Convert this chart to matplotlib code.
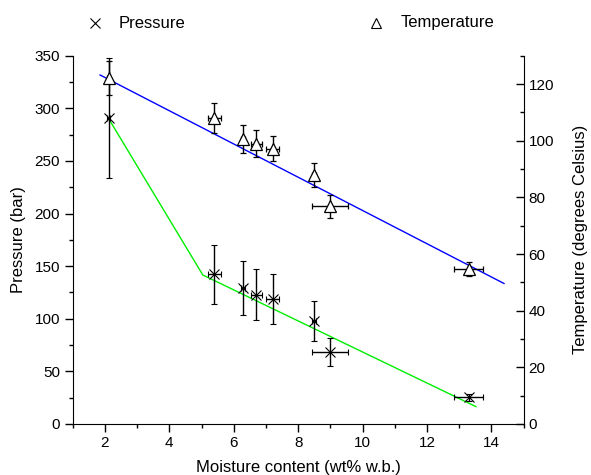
import matplotlib
matplotlib.use("Agg")
import matplotlib.pyplot as plt
from matplotlib.ticker import MultipleLocator
from matplotlib.lines import Line2D

plt.rcParams['font.family'] = ['Liberation Sans', 'DejaVu Sans']

moisture = [2.12, 5.40, 6.30, 6.70, 7.21, 8.49, 9.00, 13.29]
moisture_err = [0.05, 0.19, 0.06, 0.17, 0.21, 0.06, 0.56, 0.46]
pressure = [290.8, 142.5, 129.5, 122.9, 118.5, 98.2, 68.4, 25.3]
pressure_err = [57, 28, 25.6, 24, 23.6, 19, 13.5, 3]
temperature = [122.0, 108.0, 100.6, 98.9, 97.2, 87.9, 76.8, 54.8]
temperature_err = [6, 5.3, 5, 4.8, 4.5, 4.2, 4, 2.4]

pressure_fit_x = [2.12, 5.04, 13.52]
pressure_fit_y = [290.0, 141.6, 16.5]
temperature_fit_x = [1.85, 14.39]
temperature_fit_y = [123.2, 49.6]

legend_labels = ['Pressure', 'Temperature']

W, H = 591, 475
fig = plt.figure(figsize=(W / 100, H / 100), dpi=100)
ax = fig.add_axes([0.123, 0.1074, 0.763, 0.7753])
ax2 = ax.twinx()

ax.plot(pressure_fit_x, pressure_fit_y, color='#00ee00', lw=1.0, zorder=2)
ax2.plot(temperature_fit_x, temperature_fit_y, color='#0000ff', lw=1.0, zorder=2)

ax.errorbar(moisture, pressure, yerr=pressure_err, xerr=moisture_err, fmt='x',
            color='black', ms=7, mew=0.8, ecolor='black', elinewidth=1.0,
            capsize=2.5, capthick=1.0, zorder=3)
ax2.errorbar(moisture, temperature, yerr=temperature_err, xerr=moisture_err, fmt='^',
             color='black', mfc='white', ms=8.5, mew=0.9, ecolor='black', elinewidth=1.0,
             capsize=2.5, capthick=1.0, zorder=3)

ax.set_xlim(1, 15)
ax.set_ylim(0, 350)
ax2.set_ylim(0, 130)

ax.xaxis.set_major_locator(MultipleLocator(2))
ax.xaxis.set_minor_locator(MultipleLocator(1))
ax.yaxis.set_major_locator(MultipleLocator(50))
ax.yaxis.set_minor_locator(MultipleLocator(25))
ax2.yaxis.set_major_locator(MultipleLocator(20))
ax2.yaxis.set_minor_locator(MultipleLocator(10))

for a in (ax, ax2):
    a.spines['top'].set_visible(False)
ax.spines['right'].set_visible(False)
ax2.spines['left'].set_visible(False)
ax2.spines['bottom'].set_visible(False)

ax.tick_params(axis='both', which='major', direction='out', length=5.5, width=1, labelsize=11)
ax.tick_params(axis='both', which='minor', direction='out', length=3, width=1)
ax2.tick_params(axis='y', which='major', direction='in', length=5.5, width=1, labelsize=11)
ax2.tick_params(axis='y', which='minor', direction='in', length=3, width=1)

ax.set_xlabel('Moisture content (wt% w.b.)', fontsize=12, labelpad=7)
ax.set_ylabel('Pressure (bar)', fontsize=12, labelpad=6)
ax2.set_ylabel('Temperature (degrees Celsius)', fontsize=12, labelpad=14)

# legend above the plot
ly = 1 - 23 / H
fig.add_artist(Line2D([95 / W], [ly], transform=fig.transFigure, ls='none', marker='x',
                      color='black', ms=7, mew=0.8))
fig.text(119 / W, ly, legend_labels[0], fontsize=12, ha='left', va='center')
fig.add_artist(Line2D([376 / W], [ly], transform=fig.transFigure, ls='none', marker='^',
                      color='black', mfc='white', ms=6.5, mew=0.8))
fig.text(401 / W, ly, legend_labels[1], fontsize=12, ha='left', va='center')

fig.savefig('out.png', dpi=100)
